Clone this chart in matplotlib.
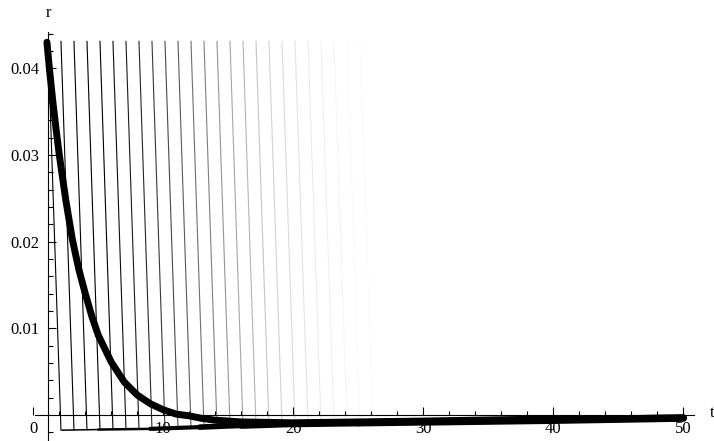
import numpy as np
import matplotlib.pyplot as plt
from matplotlib.collections import LineCollection

plt.rcParams['font.family'] = ['Liberation Serif', 'DejaVu Serif']

# thick decaying curve r(t)
decay_t = [1.05, 1.25, 1.5, 1.75, 2.0, 2.5, 3.0, 3.5, 4.0, 4.5, 5.0, 6.0,
           7.0, 8.0, 9.0, 10.0, 11.0, 12.0, 13.0, 14.0, 16.0, 20.0, 25.0,
           30.0, 38.0, 50.0]
decay_r = [0.0430, 0.0398, 0.0362, 0.0330, 0.0300, 0.0248, 0.0203, 0.0168,
           0.0140, 0.0114, 0.0092, 0.0061, 0.0038, 0.0023, 0.0013, 0.0006,
           0.0001, -0.0001, -0.0004, -0.0006, -0.0008, -0.0009, -0.0008,
           -0.0007, -0.0005, -0.00035]

# lower tapered curve (thin on the left, thick on the right)
lower_t = [2.2, 5.0, 9.0, 12.8, 16.0, 20.0, 25.0, 30.0, 40.0, 50.0]
lower_r = [-0.00175, -0.00168, -0.0016, -0.0014, -0.0012, -0.0010,
           -0.0009, -0.0008, -0.0006, -0.00035]
lower_w = [0.7, 1.1, 1.8, 3.0, 4.0, 5.0, 5.2, 5.3, 5.4, 5.4]

# fan of slanted lines: top at t0, bottom at t0 + 1
fan_t0 = [1.13, 2.13, 3.13, 4.13, 5.13, 6.13, 7.13, 8.13, 9.13, 10.13,
          11.13, 12.13, 13.13, 14.13, 15.13, 16.13, 17.13, 18.13, 19.13,
          20.13, 21.13, 22.13, 23.13, 24.13, 25.13]
fan_shade = [0.0, 0.0, 0.0, 0.0, 0.0, 0.05, 0.1, 0.15, 0.22, 0.28, 0.35,
             0.43, 0.5, 0.58, 0.65, 0.71, 0.77, 0.82, 0.86, 0.89, 0.92,
             0.94, 0.96, 0.975, 0.985]
fan_top_r = 0.0431

fig = plt.figure(figsize=(7.14, 4.41), dpi=100)
ax = fig.add_axes([0, 0, 1, 1])
ax.set_xlim(-2.56, 52.36)
ax.set_ylim(-0.0030, 0.04787)

for t0, g in zip(fan_t0, fan_shade):
    t1 = t0 + 1
    r1 = np.interp(t1, lower_t, lower_r)
    ax.plot([t0, t1], [fan_top_r, r1], color=str(g), lw=0.8, zorder=1)

pts = np.column_stack([lower_t, lower_r])
segs = np.stack([pts[:-1], pts[1:]], axis=1)
lc = LineCollection(segs, linewidths=lower_w[1:], colors='black',
                    capstyle='round', zorder=3)
ax.add_collection(lc)

ax.plot(decay_t, decay_r, color='black', lw=5, solid_capstyle='round',
        solid_joinstyle='round', zorder=4)

# Mathematica style axes
for s in ['top', 'right']:
    ax.spines[s].set_visible(False)
ax.spines['bottom'].set_position(('data', 0))
ax.spines['bottom'].set_bounds(0.15, 50.8)
ax.spines['left'].set_position(('data', 1.13))
ax.spines['left'].set_bounds(-0.003, 0.0442)
for s in ['bottom', 'left']:
    ax.spines[s].set_linewidth(0.8)
    ax.spines[s].set_zorder(2)

ax.set_xticks([0, 10, 20, 30, 40, 50])
ax.set_xticks([t for t in range(2, 50, 2) if t % 10], minor=True)
ax.set_yticks([0.01, 0.02, 0.03, 0.04])
ax.set_yticklabels(['0.01', '0.02', '0.03', '0.04'])
ax.set_yticks([v / 1000 for v in range(-2, 46, 2) if v % 10], minor=True)
ax.tick_params(which='both', direction='in', width=0.8, labelsize=12,
               colors='black')
ax.tick_params(axis='x', which='major', length=5.5, pad=4)
ax.tick_params(axis='x', which='minor', length=3)
ax.tick_params(axis='y', which='major', length=5.5, pad=6)
ax.tick_params(axis='y', which='minor', length=3.5)

ax.text(1.13, 0.0464, 'r', ha='center', va='center', fontsize=12)
ax.text(52.2, 0.0002, 't', ha='center', va='center', fontsize=12)

fig.savefig('out.png', dpi=100)
